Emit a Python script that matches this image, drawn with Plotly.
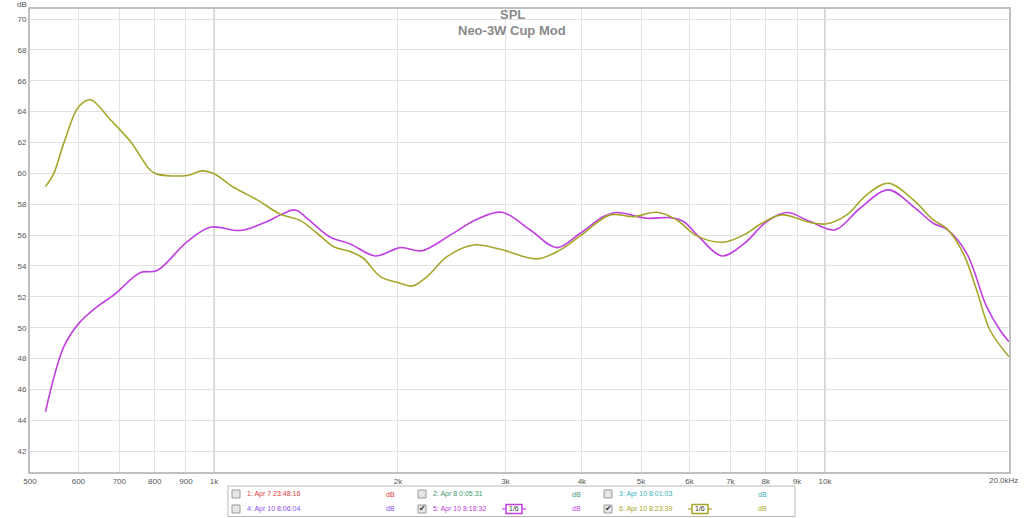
import plotly.graph_objects as go

# ---------------- data ----------------
olive_freq = [530, 547, 568, 601, 628, 677, 730, 787, 807, 904, 956, 1000, 1077, 1177, 1285,
              1385, 1475, 1570, 1672, 1756, 1872, 2018, 2110, 2232, 2406, 2660, 2941, 3377,
              3686, 3975, 4451, 4859, 5306, 5722, 6169, 6820, 7446, 7830, 8500, 9452, 10065,
              10852, 11700, 12693, 13949, 15034, 15813, 16835, 17705, 18613, 20000]
olive_db = [59.14, 60.0, 61.96, 64.33, 64.77, 63.47, 62.06, 60.2, 59.95, 59.86, 60.16, 59.97,
            59.1, 58.28, 57.35, 56.94, 56.12, 55.25, 54.93, 54.5, 53.31, 52.88, 52.7, 53.31,
            54.6, 55.36, 55.08, 54.46, 55.04, 55.95, 57.31, 57.2, 57.48, 56.98, 55.95, 55.54,
            56.12, 56.7, 57.31, 56.82, 56.73, 57.31, 58.61, 59.36, 58.28, 56.98, 56.44, 54.82,
            52.44, 49.85, 48.12]

purple_freq = [530, 568, 601, 644, 686, 758, 807, 904, 987, 1105, 1222, 1285, 1359, 1420,
               1551, 1672, 1837, 2018, 2190, 2436, 2694, 2960, 3293, 3641, 3975, 4340, 4565,
               5110, 5580, 5866, 6246, 6779, 7352, 8030, 8659, 9452, 10385, 11410, 12693,
               13949, 15034, 15813, 17050, 18383, 19330, 20000]
purple_db = [44.55, 48.77, 50.28, 51.36, 52.12, 53.57, 53.7, 55.58, 56.51, 56.3, 56.88, 57.31,
             57.63, 57.09, 55.86, 55.43, 54.65, 55.19, 54.99, 56.0, 57.02, 57.48, 56.33, 55.19,
             56.12, 57.2, 57.46, 57.09, 57.13, 56.88, 55.8, 54.65, 55.41, 56.88, 57.46, 56.88,
             56.34, 57.74, 58.93, 57.85, 56.77, 56.38, 54.82, 51.36, 49.85, 49.09]

x_tick_vals = [500, 600, 700, 800, 900, 1000, 2000, 3000, 4000, 5000, 6000, 7000, 8000, 9000, 10000]
x_tick_text = ["500", "600", "700", "800", "900", "1k", "2k", "3k", "4k", "5k", "6k", "7k", "8k", "9k", "10k"]
y_tick_vals = [42, 44, 46, 48, 50, 52, 54, 56, 58, 60, 62, 64, 66, 68, 70]

title_lines = ["SPL", "Neo-3W Cup Mod"]
legend_labels = ["1: Apr 7 23:48:16", "2: Apr 8 0:05:31", "3: Apr 10 8:01:03",
                 "4: Apr 10 8:06:04", "5: Apr 10 8:18:32", "6: Apr 10 8:23:39"]
legend_colors = ["#e03a3a", "#3a9a6a", "#3ab0c0", "#8a4cf0", "#c040e0", "#a6a62a"]
legend_checked = [False, False, False, False, True, True]
legend_smoothing = ["", "", "", "", "1/6", "1/6"]

OLIVE = "#a6a62a"
PURPLE = "#c040e0"

# ---------------- geometry ----------------
W, H = 1024, 518
L, R, T, B = 30, 15, 9, 46
PW, PH = W - L - R, H - T - B


def px(x):
    return (x - L) / PW


def py(y):
    return (H - B - y) / PH


fig = go.Figure()
fig.add_trace(go.Scatter(x=purple_freq, y=purple_db, mode="lines",
                         line=dict(color=PURPLE, width=1.6, shape="spline", smoothing=1.0),
                         hoverinfo="skip", showlegend=False))
fig.add_trace(go.Scatter(x=olive_freq, y=olive_db, mode="lines",
                         line=dict(color=OLIVE, width=1.6, shape="spline", smoothing=1.0),
                         hoverinfo="skip", showlegend=False))

shapes = []
# darker decade lines
for f in [1000, 10000]:
    shapes.append(dict(type="line", xref="x", yref="paper", x0=f, x1=f, y0=0, y1=1,
                       line=dict(color="#c4c4c4", width=1.5), layer="below"))

annotations = []
# titles
annotations.append(dict(xref="paper", yref="paper", x=px(512), y=py(15), text="<b>%s</b>" % title_lines[0],
                        showarrow=False, font=dict(size=13, color="#8a8a8a", family="Liberation Sans, Arial"),
                        xanchor="center", yanchor="middle"))
annotations.append(dict(xref="paper", yref="paper", x=px(512), y=py(31), text="<b>%s</b>" % title_lines[1],
                        showarrow=False, font=dict(size=13, color="#8a8a8a", family="Liberation Sans, Arial"),
                        xanchor="center", yanchor="middle"))
# y unit label
annotations.append(dict(xref="paper", yref="paper", x=px(22), y=py(4), text="dB", showarrow=False,
                        font=dict(size=8, color="#555555", family="Liberation Sans, Arial"),
                        xanchor="center", yanchor="middle"))
# 20.0kHz end label
annotations.append(dict(xref="paper", yref="paper", x=px(1020), y=py(480), text="20.0kHz", showarrow=False,
                        font=dict(size=8, color="#555555", family="Liberation Sans, Arial"),
                        xanchor="right", yanchor="middle"))

# legend panel
shapes.append(dict(type="rect", xref="paper", yref="paper", x0=px(228), x1=px(795), y0=py(486), y1=py(516.5),
                   line=dict(color="#b8b8b8", width=1), fillcolor="white", layer="above"))
col_x = [232, 418, 604]
row_y = [494, 509]
for i, lab in enumerate(legend_labels):
    c = i % 3
    r = i // 3
    cx = col_x[c]
    cy = row_y[r]
    col = legend_colors[i]
    # checkbox
    shapes.append(dict(type="rect", xref="paper", yref="paper", x0=px(cx), x1=px(cx + 8),
                       y0=py(cy + 4), y1=py(cy - 4), line=dict(color="#9a9a9a", width=1),
                       fillcolor="#e6e6e6", layer="above"))
    if legend_checked[i]:
        annotations.append(dict(xref="paper", yref="paper", x=px(cx + 4.5), y=py(cy), text="✔",
                                showarrow=False, font=dict(size=8, color="#333333", family="DejaVu Sans"),
                                xanchor="center", yanchor="middle"))
    annotations.append(dict(xref="paper", yref="paper", x=px(cx + 13), y=py(cy), text=lab,
                            showarrow=False, font=dict(size=7, color=col, family="Liberation Sans, Arial"),
                            xanchor="left", yanchor="middle"))
    annotations.append(dict(xref="paper", yref="paper", x=px(cx + 158), y=py(cy), text="dB",
                            showarrow=False, font=dict(size=7, color=col, family="Liberation Sans, Arial"),
                            xanchor="center", yanchor="middle"))
    if legend_smoothing[i]:
        sx = cx + 96
        shapes.append(dict(type="line", xref="paper", yref="paper", x0=px(sx - 12), x1=px(sx + 12),
                           y0=py(cy), y1=py(cy), line=dict(color=col, width=1.2), layer="above"))
        shapes.append(dict(type="rect", xref="paper", yref="paper", x0=px(sx - 8), x1=px(sx + 8),
                           y0=py(cy + 4.5), y1=py(cy - 4.5), line=dict(color=col, width=1.5),
                           fillcolor="white", layer="above"))
        annotations.append(dict(xref="paper", yref="paper", x=px(sx), y=py(cy), text=legend_smoothing[i],
                                showarrow=False, font=dict(size=7, color="#333333", family="Liberation Sans, Arial"),
                                xanchor="center", yanchor="middle"))

fig.update_layout(
    width=W, height=H,
    margin=dict(l=L, r=R, t=T, b=B, autoexpand=False),
    paper_bgcolor="white", plot_bgcolor="white",
    shapes=shapes, annotations=annotations,
    showlegend=False,
    xaxis=dict(type="log", range=[2.69897, 4.30103], tickvals=x_tick_vals, ticktext=x_tick_text,
               showgrid=True, gridcolor="#e2e2e2", gridwidth=1, zeroline=False,
               showline=True, linecolor="#c0c0c0", linewidth=2, mirror=True,
               ticks="", tickfont=dict(size=8, color="#555555", family="Liberation Sans, Arial"),
               automargin=False, fixedrange=True),
    yaxis=dict(range=[40.65, 70.65], tickvals=y_tick_vals,
               showgrid=True, gridcolor="#e2e2e2", gridwidth=1, zeroline=False,
               showline=True, linecolor="#c0c0c0", linewidth=2, mirror=True,
               ticks="", tickfont=dict(size=8, color="#555555", family="Liberation Sans, Arial"),
               automargin=False, fixedrange=True),
)

fig.write_html("out.html", config={"displayModeBar": False},
               post_script="document.body.style.margin='0';document.body.style.overflow='hidden';")
